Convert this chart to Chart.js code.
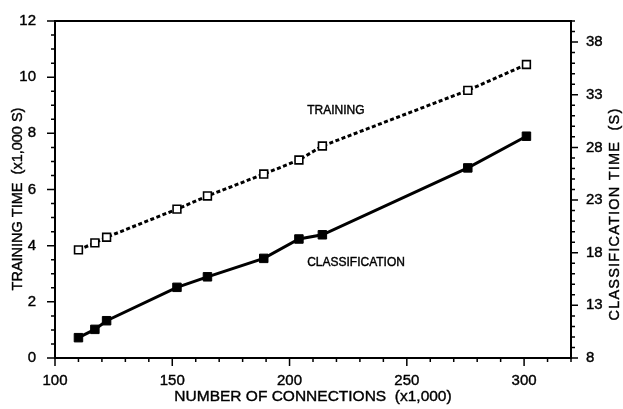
<!DOCTYPE html>
<html>
<head>
<meta charset="utf-8">
<script src="https://cdn.jsdelivr.net/npm/chart.js@4/dist/chart.umd.min.js"></script>
<style>
  html, body { margin: 0; padding: 0; background: #fff; }
  #wrap { width: 623px; height: 409px; }
</style>
</head>
<body>
<div id="wrap"><canvas id="c" width="623" height="409"></canvas></div>
<script>
// Number of connections (x1,000) for each measured network
const connections = [110, 117, 122, 152, 165, 189, 204, 214, 276, 301];
// Training time (x1,000 s), left axis
const trainingTime = [3.85, 4.1, 4.3, 5.3, 5.77, 6.55, 7.05, 7.55, 9.53, 10.45];
// Classification time (s), right axis
const classificationTime = [9.93, 10.72, 11.54, 14.71, 15.71, 17.46, 19.3, 19.7, 26.05, 29.06];

// Labelled ticks
const xTickValues = [100, 150, 200, 250, 300];
const leftTickValues = [0, 2, 4, 6, 8, 10, 12];
const rightTickValues = [8, 13, 18, 23, 28, 33, 38];

const FONT = "'Liberation Sans', Arial, Helvetica, sans-serif";
const INK = '#000';

const toPoints = (xs, ys) => xs.map((x, i) => ({ x: x, y: ys[i] }));
const fixTicks = values => scale => { scale.ticks = values.map(v => ({ value: v })); };

// Filled text with a hairline outline for a slightly heavier print look
function inkText(ctx, text, x, y) {
  ctx.fillText(text, x, y);
  ctx.strokeText(text, x, y);
}

// Axis frame, major/minor tick marks, axis titles and series captions
const framePlugin = {
  id: 'frame',
  beforeDatasetsDraw(chart) {
    const { ctx, chartArea: a, scales } = chart;
    ctx.save();
    ctx.strokeStyle = INK;
    ctx.lineWidth = 2;
    ctx.strokeRect(a.left, a.top, a.right - a.left, a.bottom - a.top);

    ctx.lineWidth = 1.5;
    ctx.beginPath();
    // bottom axis: minor every 10, major at labelled values
    for (let v = 100; v <= 320; v += 10) {
      const px = scales.x.getPixelForValue(v);
      const len = xTickValues.includes(v) ? 8 : 4;
      ctx.moveTo(px, a.bottom); ctx.lineTo(px, a.bottom + len);
    }
    // left axis: minor every 0.5
    for (let v = 0; v <= 12; v += 0.5) {
      const py = scales.y.getPixelForValue(v);
      const len = leftTickValues.includes(v) ? 8 : 4;
      ctx.moveTo(a.left, py); ctx.lineTo(a.left - len, py);
    }
    // right axis: minor every 1
    for (let v = 8; v <= 40; v += 1) {
      const py = scales.y2.getPixelForValue(v);
      const len = rightTickValues.includes(v) ? 7 : 4;
      ctx.moveTo(a.right, py); ctx.lineTo(a.right + len, py);
    }
    ctx.stroke();
    ctx.restore();
  },
  afterDraw(chart) {
    const { ctx, chartArea: a, scales } = chart;
    ctx.save();
    ctx.fillStyle = INK;
    ctx.strokeStyle = INK;
    ctx.lineWidth = 0.4;
    ctx.textAlign = 'center';
    ctx.textBaseline = 'middle';

    // bottom title
    ctx.font = '15.5px ' + FONT;
    inkText(ctx, 'NUMBER OF CONNECTIONS  (x1,000)', (a.left + a.right) / 2, 397);

    // left title, reading upward
    ctx.font = '14.5px ' + FONT;
    ctx.save();
    ctx.translate(18, 199);
    ctx.rotate(-Math.PI / 2);
    inkText(ctx, 'TRAINING TIME  (x1,000 S)', 0, 0);
    ctx.restore();

    // right title, reading upward
    ctx.save();
    ctx.translate(615, 214);
    ctx.rotate(-Math.PI / 2);
    ctx.letterSpacing = '1.2px';
    inkText(ctx, 'CLASSIFICATION TIME  (S)', 0, 0);
    ctx.restore();

    // series captions
    ctx.font = '12px ' + FONT;
    ctx.textAlign = 'left';
    inkText(ctx, 'TRAINING', scales.x.getPixelForValue(207.5), scales.y.getPixelForValue(8.82));
    inkText(ctx, 'CLASSIFICATION', scales.x.getPixelForValue(207.5), scales.y.getPixelForValue(3.4));
    ctx.restore();
  }
};

const tickFont = { family: FONT, size: 15 };

new Chart(document.getElementById('c'), {
  type: 'line',
  data: {
    datasets: [
      {
        label: 'TRAINING',
        data: toPoints(connections, trainingTime),
        yAxisID: 'y',
        borderColor: INK,
        borderWidth: 3,
        borderDash: [4, 2.5],
        tension: 0,
        pointStyle: 'rect',
        pointRadius: 5.5,
        pointBackgroundColor: '#fff',
        pointBorderColor: INK,
        pointBorderWidth: 1.6
      },
      {
        label: 'CLASSIFICATION',
        data: toPoints(connections, classificationTime),
        yAxisID: 'y2',
        borderColor: INK,
        borderWidth: 3,
        tension: 0,
        pointStyle: 'rect',
        pointRadius: 6,
        pointBackgroundColor: INK,
        pointBorderColor: INK,
        pointBorderWidth: 1
      }
    ]
  },
  options: {
    responsive: false,
    animation: false,
    layout: { padding: { top: 21, left: 0, right: 0, bottom: 0 } },
    plugins: { legend: { display: false }, tooltip: { enabled: false } },
    scales: {
      x: {
        type: 'linear',
        min: 100, max: 320,
        afterBuildTicks: fixTicks(xTickValues),
        afterFit: s => { s.height = 51; },
        grid: { display: false },
        border: { display: false },
        ticks: { color: INK, font: tickFont, padding: 6, maxRotation: 0, autoSkip: false,
                 textStrokeColor: INK, textStrokeWidth: 0.4 }
      },
      y: {
        position: 'left',
        min: 0, max: 12,
        afterBuildTicks: fixTicks(leftTickValues),
        afterFit: s => { s.width = 55; },
        grid: { display: false },
        border: { display: false },
        ticks: { color: INK, font: tickFont, padding: 11, autoSkip: false,
                 textStrokeColor: INK, textStrokeWidth: 0.4 }
      },
      y2: {
        position: 'right',
        min: 8, max: 40,
        afterBuildTicks: fixTicks(rightTickValues),
        afterFit: s => { s.width = 52; },
        grid: { display: false },
        border: { display: false },
        ticks: { color: INK, font: tickFont, padding: 7, autoSkip: false,
                 textStrokeColor: INK, textStrokeWidth: 0.4 }
      }
    }
  },
  plugins: [framePlugin]
});
</script>
</body>
</html>
